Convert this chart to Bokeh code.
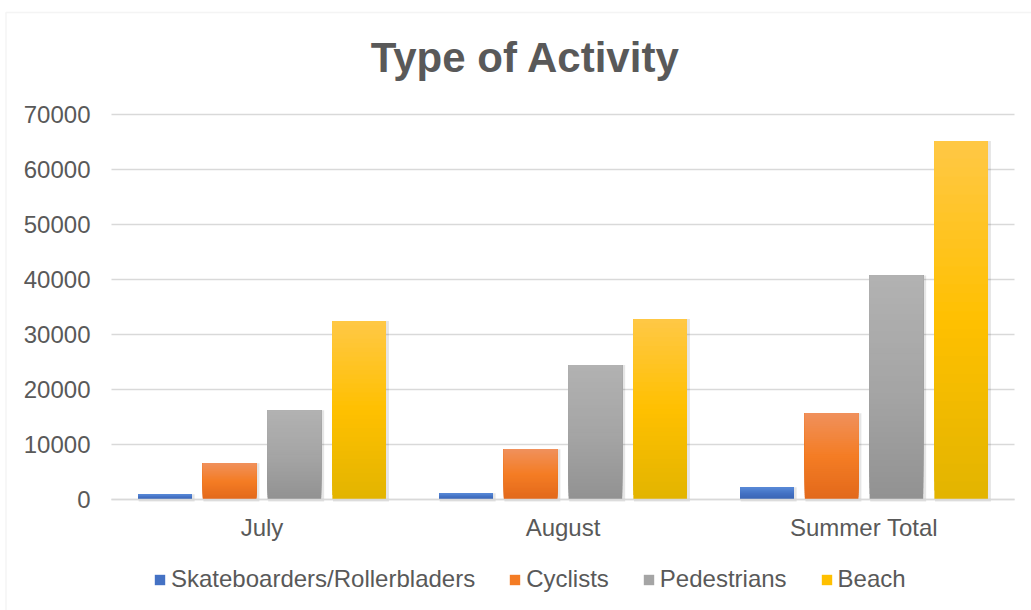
import numpy as np
from bokeh.plotting import figure
from bokeh.models import (ColumnDataSource, Range1d, Legend, LegendItem,
                          Label, PolyAnnotation, FixedTicker, NumeralTickFormatter)
from bokeh.transform import dodge
from bokeh.embed import file_html
from bokeh.resources import INLINE

# ---- data ----
categories = ["July", "August", "Summer Total"]
series_names = ["Skateboarders/Rollerbladers", "Cyclists", "Pedestrians", "Beach"]
skate = [950, 1150, 2250]
cyclists = [6600, 9150, 15700]
pedestrians = [16250, 24450, 40750]
beach = [32450, 32800, 65200]
y_ticks = [0, 10000, 20000, 30000, 40000, 50000, 60000, 70000]
title_text = "Type of Activity"

# gradient colours (bottom, middle, top) per series
grad_skate = ("#3A64B2", "#4472C4", "#5A8AD8")
grad_cyc = ("#E2691B", "#F47C24", "#F0915C")
grad_ped = ("#929292", "#A5A5A5", "#B2B2B2")
grad_beach = ("#E2B400", "#FFC000", "#FFC846")

FONT = "Liberation Sans"
TXT = "#595959"
GRID = "#D9D9D9"

W, H = 1031, 610
FR_LEFT, FR_RIGHT = 111, 1014          # plot-area pixel extent
PX_TOP_TICK, PX_ZERO = 114, 499        # pixel rows of the 70000 and 0 gridlines
y_per_px = (y_ticks[-1] - y_ticks[0]) / (PX_ZERO - PX_TOP_TICK)
x_per_px = len(categories) / (FR_RIGHT - FR_LEFT)
cat_pos = [i + 0.5 for i in range(len(categories))]


def ypix(py):
    return y_ticks[0] + (PX_ZERO - py) * y_per_px


def xpix(px):
    return (px - FR_LEFT) * x_per_px


def hex2rgb(h):
    h = h.lstrip("#")
    return np.array([int(h[i:i + 2], 16) for i in (0, 2, 4)], dtype=float)


def rgb2hex(c):
    c = np.clip(np.round(c), 0, 255).astype(int)
    return "#%02x%02x%02x" % tuple(c)


def band_source(vals, grad, n=40):
    # overlapping bands (each runs to the bar top) -> seamless vertical gradient
    cb, cm, ct = [hex2rgb(c) for c in grad]
    xs, bots, tops, cols = [], [], [], []
    for k in range(n):
        f = (k + 0.5) / n
        if f < 0.5:
            c = cb + (cm - cb) * (f / 0.5)
        else:
            c = cm + (ct - cm) * ((f - 0.5) / 0.5)
        for x, v in zip(cat_pos, vals):
            xs.append(x)
            bots.append(v * k / n)
            tops.append(v)
            cols.append(rgb2hex(c))
    return ColumnDataSource(dict(x=xs, bottom=bots, top=tops, color=cols))


p = figure(x_range=Range1d(xpix(0), xpix(W)), y_range=Range1d(ypix(H), ypix(0)),
           width=W, height=H, output_backend="svg", toolbar_location=None,
           min_border_left=0, min_border_right=0, min_border_top=0,
           min_border_bottom=0)
p.outline_line_color = None
p.background_fill_color = "white"
p.border_fill_color = "white"

p.xgrid.grid_line_color = None
p.ygrid.ticker = FixedTicker(ticks=y_ticks)
p.ygrid.grid_line_color = GRID
p.ygrid.grid_line_width = 1.3
p.ygrid.cross_bounds = (xpix(FR_LEFT), xpix(FR_RIGHT))

p.yaxis.fixed_location = xpix(FR_LEFT)
p.yaxis.ticker = FixedTicker(ticks=y_ticks)
p.yaxis.formatter = NumeralTickFormatter(format="0")
p.yaxis.axis_line_color = None
p.yaxis.major_tick_line_color = None
p.yaxis.minor_tick_line_color = None
p.yaxis.major_label_standoff = 15
p.yaxis.major_label_text_font = FONT
p.yaxis.major_label_text_font_size = "24px"
p.yaxis.major_label_text_color = TXT

p.xaxis.fixed_location = 0
p.xaxis.bounds = (xpix(FR_LEFT), xpix(FR_RIGHT))
p.xaxis.ticker = FixedTicker(ticks=cat_pos)
p.xaxis.major_label_overrides = {x: c for x, c in zip(cat_pos, categories)}
p.xaxis.axis_line_color = GRID
p.xaxis.axis_line_width = 1.3
p.xaxis.major_tick_line_color = None
p.xaxis.minor_tick_line_color = None
p.xaxis.major_label_standoff = 8
p.xaxis.major_label_text_font = FONT
p.xaxis.major_label_text_font_size = "24px"
p.xaxis.major_label_text_color = TXT

bar_w = 0.178
offsets = [-0.3228, -0.1076, 0.1076, 0.3228]
all_vals = [skate, cyclists, pedestrians, beach]
grads = [grad_skate, grad_cyc, grad_ped, grad_beach]

legend_items = []
for name, vals, grad, off in zip(series_names, all_vals, grads, offsets):
    sh = ColumnDataSource(dict(x=cat_pos, top=vals))
    p.vbar(x=dodge("x", off + 0.006), top="top", bottom=-2 * y_per_px,
           width=bar_w + 0.008, source=sh, fill_color="black", fill_alpha=0.10,
           line_color=None)
    src = band_source(vals, grad)
    p.vbar(x=dodge("x", off), top="top", bottom="bottom",
           width=bar_w, source=src, fill_color="color", line_color=None)
    key = p.vbar(x=[cat_pos[0]], top=[0], bottom=[0], width=0, fill_color=grad[1],
                 line_color=None)
    legend_items.append(LegendItem(label=name, renderers=[key]))

legend = Legend(items=legend_items, orientation="horizontal", location=(153, 17),
                glyph_width=13, glyph_height=13, label_standoff=5, spacing=33,
                padding=0, margin=0, border_line_color=None,
                background_fill_alpha=0, label_text_font=FONT,
                label_text_font_size="24px", label_text_color=TXT)
p.add_layout(legend, "center")

p.add_layout(Label(x=xpix(525), y=ypix(57), text=title_text, text_align="center",
                   text_baseline="middle", text_font=FONT, text_font_size="42px",
                   text_font_style="bold", text_color=TXT))

p.add_layout(PolyAnnotation(xs=[xpix(5.5), xpix(5.5), xpix(1060), xpix(1060)],
                            ys=[ypix(640), ypix(12), ypix(12), ypix(640)],
                            fill_alpha=0, line_color=GRID, line_width=1.5))

open("out.html", "w").write(file_html(p, INLINE))
